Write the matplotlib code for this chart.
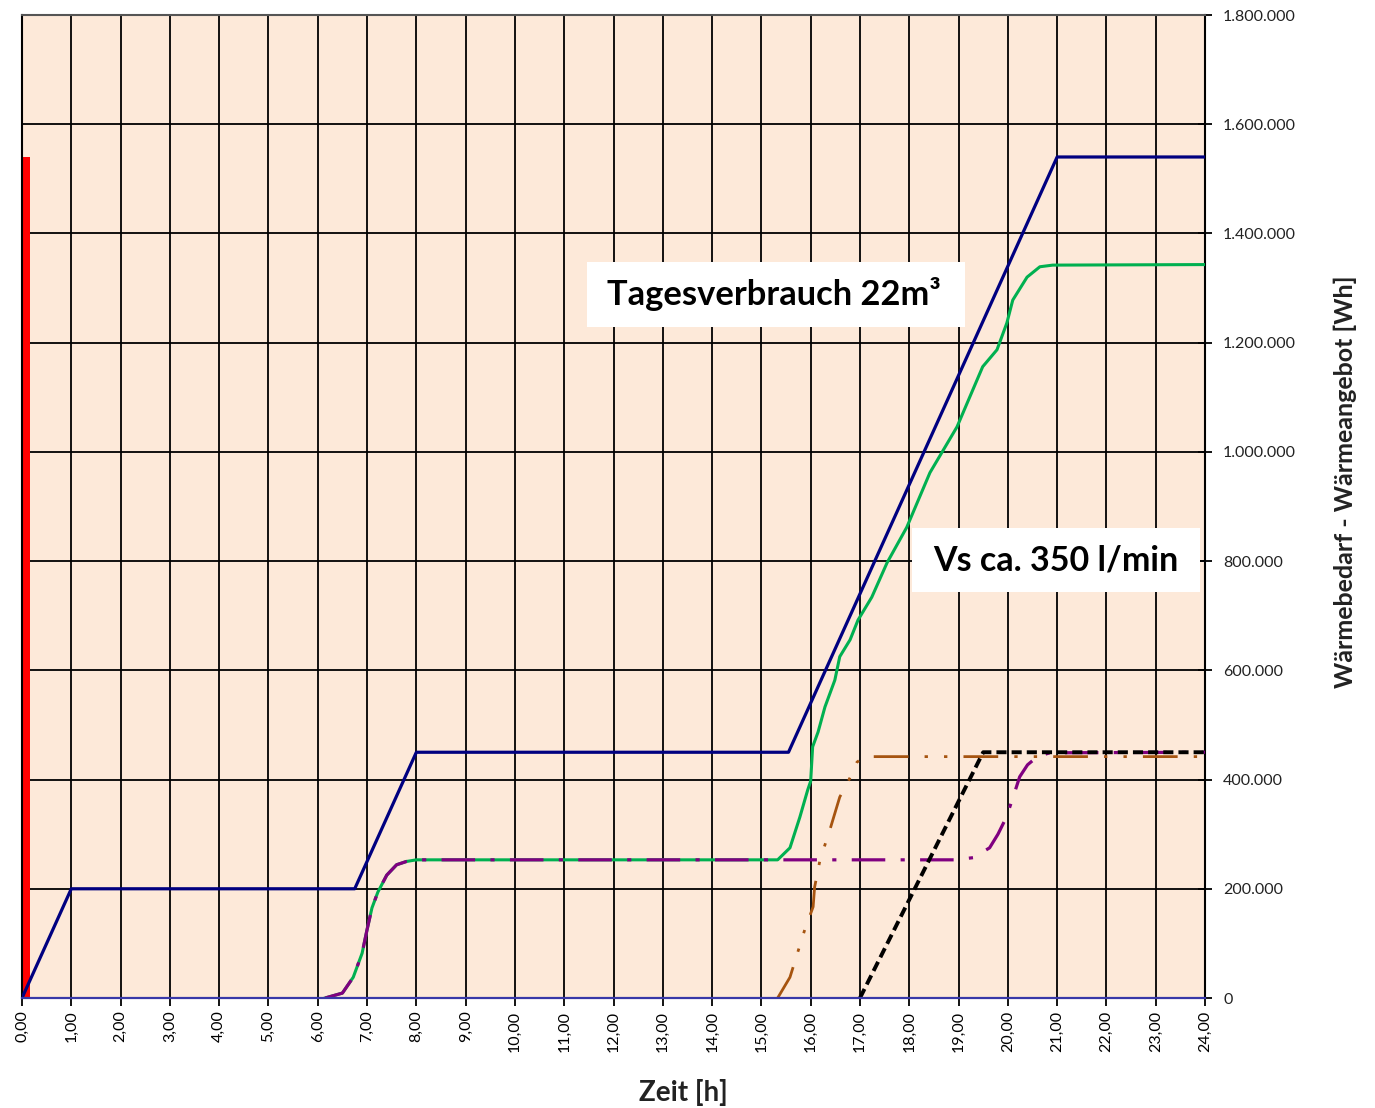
import numpy as np
import matplotlib.pyplot as plt
from matplotlib.patches import Rectangle

# Zeit [h] und Werte [Wh]
stunden = list(range(0, 25))
y_ticks = [0, 200000, 400000, 600000, 800000, 1000000, 1200000, 1400000, 1600000, 1800000]

# Morgens gemeinsamer Verlauf (gruen + lila)
morgen_t = [6.15, 6.5, 6.72, 6.9, 7.0, 7.1, 7.22, 7.4, 7.6, 7.8, 8.0]
morgen_v = [0, 9000, 38000, 82000, 125000, 165000, 194000, 225000, 244000, 250000, 253000]

# Waermebedarf (blau)
blau_t = [0, 1, 6.75, 8, 15.55, 21, 24]
blau_v = [0, 200000, 200000, 450000, 450000, 1540000, 1540000]

# Waermeangebot gesamt (gruen)
gruen_t = morgen_t + [15.33, 15.58, 15.78, 15.94, 16.0, 16.04, 16.15, 16.29, 16.49, 16.59, 16.8,
                      16.96, 17.24, 17.55, 17.95, 18.42, 18.97, 19.49, 19.78, 19.98, 20.1,
                      20.39, 20.65, 20.91, 24]
gruen_v = morgen_v + [253000, 275000, 331000, 381000, 397000, 460000, 487000, 533000, 582000,
                      625000, 656000, 692000, 734000, 797000, 862000, 962000, 1046000, 1156000,
                      1187000, 1236000, 1278000, 1320000, 1339000, 1342000, 1343000]

# lila Strich-Punkt
lila_t = morgen_t + [18.92, 19.3, 19.63, 19.8, 19.97, 20.14, 20.24, 20.4, 20.6, 20.85, 24]
lila_v = morgen_v + [253000, 257000, 275000, 300000, 331000, 377000, 405000, 427000, 442000,
                     449000, 450000]

# braun Strich-Punkt-Punkt
braun_t = [15.33, 15.58, 15.88, 16.05, 16.08, 16.19, 16.39, 16.59, 16.76, 16.94, 17.1, 24]
braun_v = [0, 38000, 125000, 167000, 203000, 253000, 308000, 368000, 396000, 432000, 442000, 442000]

# schwarz gestrichelt
schwarz_t = [17.0, 19.5, 24]
schwarz_v = [0, 450000, 450000]

# roter Balken bei 0
rot_v = 1540000


def fmt_y(v):
    return '0' if v == 0 else '{:,}'.format(v).replace(',', '.')


fig = plt.figure(figsize=(13.75, 11.08), dpi=100)
ax = fig.add_axes([22/1375, 1-998/1108, (1205-22)/1375, (998-15)/1108])
ax.set_facecolor('#FDE9D9')

ax.bar([0], [rot_v], width=0.17, align='edge', color='red', zorder=2)

ax.plot(gruen_t, gruen_v, color='#00B050', lw=2.2, zorder=3)
ax.plot(lila_t, lila_v, color='#800080', lw=2.3, dashes=(10.5, 4.8, 1.3, 4.8),
        dash_capstyle='butt', zorder=4)
ax.plot(braun_t, braun_v, color='#A65410', lw=2.0, dashes=(12.5, 5.8, 1.2, 5.8, 1.2, 5.8),
        dash_capstyle='butt', zorder=4)
ax.plot(schwarz_t, schwarz_v, color='black', lw=2.8, dashes=(2.6, 1.3),
        dash_capstyle='butt', zorder=4)
ax.plot(blau_t, blau_v, color='#000080', lw=2.3, zorder=5)

ax.set_xlim(0, 24)
ax.set_ylim(0, 1800000)
ax.set_xticks(stunden)
ax.set_xticklabels(['{},00'.format(h) for h in stunden], rotation=90, va='top', ha='center',
                   fontsize=11.5, family=['Liberation Sans Narrow', 'Lato', 'DejaVu Sans'])
ax.yaxis.tick_right()
ax.set_yticks(y_ticks)
ax.set_yticklabels([fmt_y(v) for v in y_ticks], fontsize=11.5,
                   family=['Liberation Sans Narrow', 'Lato', 'DejaVu Sans'], color='#222222')
ax.tick_params(axis='x', direction='out', length=6, width=1.3, color='black', pad=3)
ax.tick_params(axis='y', direction='inout', length=10, width=1.3, color='black', pad=8)
ax.grid(True, color='black', lw=1.3, zorder=1)
ax.set_axisbelow(True)

for s in ['left', 'right']:
    ax.spines[s].set_color('black')
    ax.spines[s].set_linewidth(1.5)
ax.spines['top'].set_color('#555555')
ax.spines['top'].set_linewidth(1.5)
ax.spines['bottom'].set_color('#3838A8')
ax.spines['bottom'].set_linewidth(1.6)
ax.spines['bottom'].set_zorder(6)

fig.text(683/1375, 1-1093/1108, 'Zeit [h]', ha='center', va='center', fontsize=20,
         fontweight='bold', family='Lato', color='#222222')
fig.text(1345/1375, 1-482/1108, 'Wärmebedarf - Wärmeangebot [Wh]', ha='center', va='center',
         rotation=90, fontsize=18, fontweight='bold', family='Lato', color='#222222')

# weisse Textkaesten
fig.patches.append(Rectangle((587/1375, 1-327/1108), 378/1375, 65/1108, transform=fig.transFigure,
                             facecolor='white', edgecolor='none', zorder=10))
fig.text(607/1375, 1-294/1108, 'Tagesverbrauch 22m³', ha='left', va='center', fontsize=24.8,
         fontweight='bold', family='Lato', zorder=11)
fig.patches.append(Rectangle((912/1375, 1-592/1108), 288/1375, 64/1108, transform=fig.transFigure,
                             facecolor='white', edgecolor='none', zorder=10))
fig.text(933/1375, 1-561/1108, 'Vs ca. 350 l/min', ha='left', va='center', fontsize=24.5,
         fontweight='bold', family='Lato', zorder=11)

fig.savefig('out.png', dpi=100)
